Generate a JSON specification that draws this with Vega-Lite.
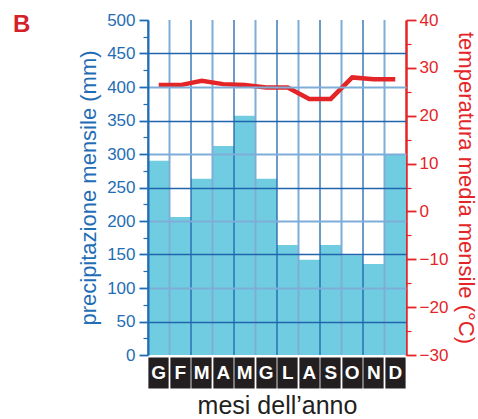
{
  "$schema": "https://vega.github.io/schema/vega-lite/v6.json",
  "width": 258,
  "height": 335,
  "autosize": {"type": "none"},
  "padding": {"left": 148, "top": 20, "right": 72, "bottom": 64},
  "background": "white",
  "title": {"text": "B", "anchor": "start", "frame": "group", "dx": -135, "dy": 26, "offset": 0, "baseline": "top", "fontSize": 24, "fontWeight": "bold", "color": "#d2232a", "font": "Liberation Sans"},
  "config": {"view": {"stroke": null}, "font": "Liberation Sans"},
  "data": {"values": [
    {"mese": "Gennaio", "prec": 290, "temp": 26.4},
    {"mese": "Febbraio", "prec": 206, "temp": 26.4},
    {"mese": "Marzo", "prec": 263, "temp": 27.3},
    {"mese": "Aprile", "prec": 312, "temp": 26.6},
    {"mese": "Maggio", "prec": 357, "temp": 26.4},
    {"mese": "Giugno", "prec": 263, "temp": 25.9},
    {"mese": "Luglio", "prec": 164, "temp": 25.9},
    {"mese": "Agosto", "prec": 142, "temp": 23.5},
    {"mese": "Settembre", "prec": 164, "temp": 23.5},
    {"mese": "Ottobre", "prec": 149, "temp": 28.0},
    {"mese": "Novembre", "prec": 136, "temp": 27.6},
    {"mese": "Dicembre", "prec": 300, "temp": 27.6}
  ]},
  "encoding": {
    "x": {
      "field": "mese", "type": "nominal",
      "sort": ["Gennaio","Febbraio","Marzo","Aprile","Maggio","Giugno","Luglio","Agosto","Settembre","Ottobre","Novembre","Dicembre"],
      "scale": {"paddingInner": 0, "paddingOuter": 0},
      "axis": {
        "title": "mesi dell’anno", "titleFontSize": 25, "titleFontWeight": "normal", "titleColor": "#231f20", "titlePadding": -5,
        "domain": false, "grid": false,
        "ticks": true, "tickColor": "#231f20", "tickSize": 31, "tickWidth": 20.2, "offset": 2,
        "labelExpr": "upper(substring(datum.label, 0, 1))",
        "labelColor": "white", "labelFontSize": 19, "labelFontWeight": "bold", "labelAngle": 0,
        "labelBaseline": "middle", "labelPadding": -15.5
      }
    }
  },
  "layer": [
    {
      "mark": {"type": "bar", "color": "#70cce0"},
      "encoding": {
        "y": {
          "field": "prec", "type": "quantitative",
          "scale": {"domain": [0, 500], "nice": false},
          "axis": {
            "zindex": 1,
            "title": "precipitazione mensile (mm)", "titleFontSize": 22, "titleFontWeight": "normal", "titleColor": "#1f6db5", "titlePadding": 6,
            "values": [0,25,50,75,100,125,150,175,200,225,250,275,300,325,350,375,400,425,450,475,500],
            "labelExpr": "datum.value % 50 === 0 ? datum.label : ''",
            "labelColor": "#1f6db5", "labelFontSize": 17, "labelPadding": 4,
            "domainColor": "#1f6db5", "domainWidth": 2,
            "tickColor": "#1f6db5",
            "tickSize": {"condition": {"test": "datum.value % 50 === 0", "value": 9}, "value": 5},
            "tickWidth": {"condition": {"test": "datum.value % 50 === 0", "value": 1.8}, "value": 1.2},
            "grid": true,
            "gridOpacity": {"condition": {"test": "datum.value % 50 === 0 && datum.value > 0 && datum.value < 500", "value": 1}, "value": 0},
            "gridColor": {"condition": {"test": "datum.value % 100 === 0", "value": "#7eaed8"}, "value": "#1f64ad"},
            "gridWidth": {"condition": {"test": "datum.value % 100 === 0", "value": 2}, "value": 1.3}
          }
        }
      }
    },
    {
      "mark": {"type": "rule"},
      "encoding": {
        "x": {"field": "mese", "type": "nominal", "bandPosition": 0, "sort": ["Gennaio","Febbraio","Marzo","Aprile","Maggio","Giugno","Luglio","Agosto","Settembre","Ottobre","Novembre","Dicembre"]},
        "stroke": {"condition": {"test": "indexof(['Febbraio','Aprile','Giugno','Agosto','Ottobre','Dicembre'], datum.mese) >= 0", "value": "#7eaed8"}, "value": "#1f64ad"},
        "strokeWidth": {"condition": {"test": "indexof(['Febbraio','Aprile','Giugno','Agosto','Ottobre','Dicembre'], datum.mese) >= 0", "value": 2}, "value": 1.3}
      }
    },
    {
      "mark": {"type": "line", "color": "#e42528", "strokeWidth": 4.5, "strokeJoin": "miter"},
      "encoding": {
        "y": {
          "field": "temp", "type": "quantitative",
          "scale": {"domain": [-30, 40], "nice": false},
          "axis": {
            "orient": "right",
            "title": "temperatura media mensile (°C)", "titleFontSize": 22, "titleFontWeight": "normal", "titleColor": "#e42528", "titlePadding": 6,
            "values": [-30,-25,-20,-15,-10,-5,0,5,10,15,20,25,30,35,40],
            "labelExpr": "datum.value % 10 === 0 ? datum.label : ''",
            "labelColor": "#e42528", "labelFontSize": 17, "labelPadding": 3,
            "domainColor": "#e42528", "domainWidth": 2.5,
            "tickColor": "#e42528",
            "tickSize": {"condition": {"test": "datum.value % 10 === 0", "value": 10}, "value": 5},
            "tickWidth": {"condition": {"test": "datum.value % 10 === 0", "value": 1.8}, "value": 1.2},
            "grid": false
          }
        }
      }
    }
  ],
  "resolve": {"scale": {"y": "independent"}}
}
